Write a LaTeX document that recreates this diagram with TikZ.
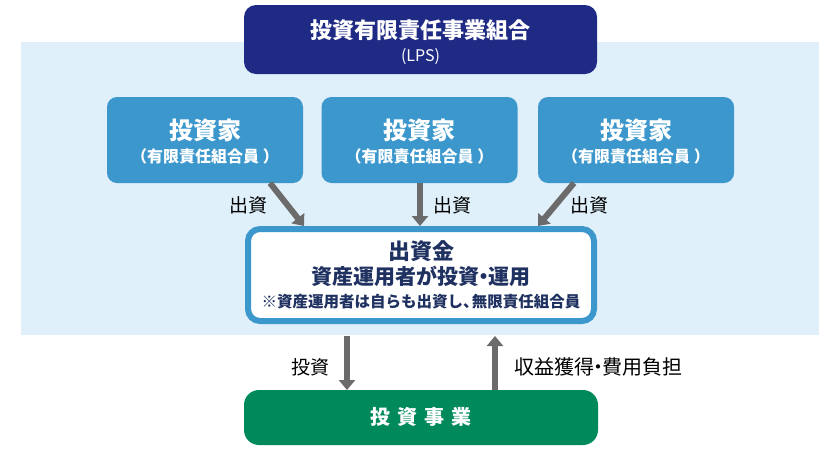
\documentclass[tikz,border=0pt]{standalone}
\usepackage{fontspec}
\setmainfont{Noto Sans CJK JP}
\newfontfamily\jp{Noto Sans CJK JP}
\usetikzlibrary{arrows.meta}
\definecolor{navy}{HTML}{1E2A84}
\definecolor{invblue}{HTML}{3C97CD}
\definecolor{bgblue}{HTML}{E0F0FA}
\definecolor{biz}{HTML}{008A5C}
\definecolor{arrowgray}{HTML}{6B6B6B}
\definecolor{fundtext}{HTML}{1F3160}
\newcommand{\ndot}{\kern-0.3em・\kern-0.3em}
\newcommand{\ncomma}{、\kern-0.45em}
\tikzset{
  lpsbox/.style={fill=navy, rounded corners=12pt, minimum width=353pt, minimum height=69pt, inner sep=0pt},
  invbox/.style={fill=invblue, rounded corners=10pt, minimum width=196pt, minimum height=86pt, inner sep=0pt},
  fundbox/.style={draw=invblue, line width=6pt, fill=white, rounded corners=12pt, minimum width=346pt, minimum height=92pt, inner sep=0pt},
  bizbox/.style={fill=biz, rounded corners=15pt, minimum width=354pt, minimum height=55pt, inner sep=0pt},
  wtitle/.style={text=white, font=\jp\bfseries\fontsize{22pt}{24pt}\selectfont, inner sep=0pt},
  wsub/.style={text=white, font=\jp\bfseries\fontsize{16pt}{18pt}\selectfont, inner sep=0pt},
  ftitle/.style={text=fundtext, font=\jp\bfseries\fontsize{21pt}{23pt}\selectfont, inner sep=0pt},
  fnote/.style={text=fundtext, font=\jp\bfseries\fontsize{15.5pt}{17pt}\selectfont, inner sep=0pt},
  lbl/.style={text=black, font=\jp\fontsize{19pt}{21pt}\selectfont, inner sep=0pt},
  flow/.style={draw=arrowgray, line width=6pt, -{Triangle[width=16pt,length=10pt]}},
}
\begin{document}
\begin{tikzpicture}[x=1pt,y=-1pt]
\useasboundingbox (0,0) rectangle (840,448);
\fill[bgblue] (21,42) rectangle (819,335);

\node[lpsbox] (lps) at (420.5,39.5) {};
\node[wtitle] (lpst) at (420.5,30) {投資有限責任事業組合};
\node[wsub, font=\jp\fontsize{16pt}{18pt}\selectfont] (lpss) at (420.5,57) {(LPS)};

\node[invbox] (inv1) at (205,140) {};
\node[invbox] (inv2) at (419.5,140) {};
\node[invbox] (inv3) at (636,140) {};
\foreach \n/\x in {1/205,2/419.5,3/636}{
  \node[wtitle, font=\jp\bfseries\fontsize{24pt}{26pt}\selectfont] (inv\n t) at (\x,130) {投資家};
  \node[wsub] (inv\n s) at (\x,156) {（有限責任組合員 ）};
}

\node[fundbox] (fund) at (421,275) {};
\node[ftitle, font=\jp\bfseries\fontsize{22pt}{24pt}\selectfont] (fund1) at (421,251) {出資金};
\node[ftitle] (fund2) at (421,276) {資産運用者が投資\ndot 運用};
\node[fnote] (fund3) at (421,302) {※資産運用者は自らも出資し\ncomma 無限責任組合員};

\node[bizbox] (biz) at (421,417.5) {};
\node[text=white, font=\jp\bfseries\fontsize{20pt}{22pt}\selectfont, inner sep=0pt] (bizt) at (421,417) {投\hspace{7pt}資\hspace{7pt}事\hspace{7pt}業};

\coordinate (a1s) at (270,183);
\coordinate (a1e) at (304,226);
\coordinate (a2s) at (420,183);
\coordinate (a2e) at (420,226);
\coordinate (a3s) at (574,183);
\coordinate (a3e) at (538,226);
\draw[flow] (a1s) -- (a1e);
\draw[flow] (a2s) -- (a2e);
\draw[flow] (a3s) -- (a3e);

\coordinate (d1s) at (347,336);
\coordinate (d1e) at (347,390);
\coordinate (u1s) at (495,390);
\coordinate (u1e) at (495,336);
\draw[flow] (d1s) -- (d1e);
\draw[flow] (u1s) -- (u1e);

\node[lbl] (l1) at (248,205) {出資};
\node[lbl] (l2) at (452,205) {出資};
\node[lbl] (l3) at (589,205) {出資};
\node[lbl] (l4) at (310,367) {投資};
\node[lbl, font=\jp\fontsize{20pt}{22pt}\selectfont] (l5) at (598,367) {収益獲得\ndot 費用負担};
\end{tikzpicture}
\end{document}
